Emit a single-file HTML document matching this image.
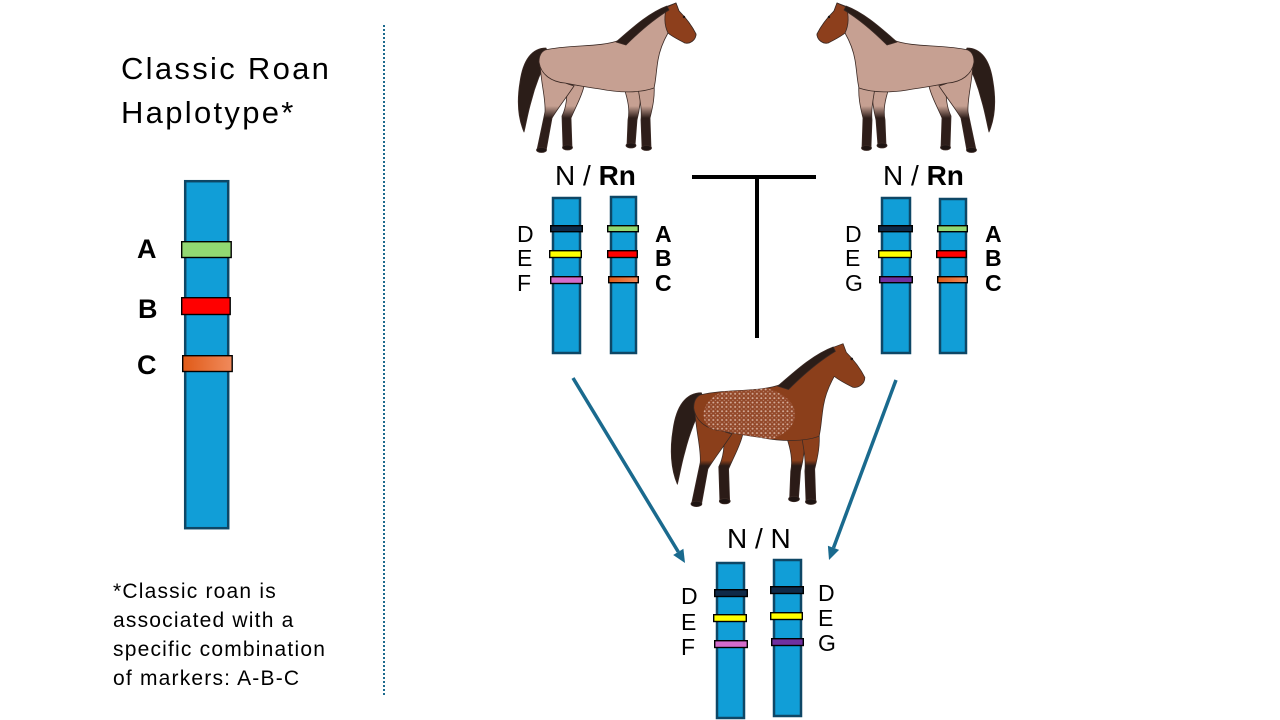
<!DOCTYPE html>
<html>
<head>
<meta charset="utf-8">
<style>
html,body{margin:0;padding:0;background:#fff;}
svg{display:block;}
text{font-family:"Liberation Sans",Arial,sans-serif;fill:#000;}
.b{font-weight:bold;}
</style>
</head>
<body>
<svg width="1280" height="720" viewBox="0 0 1280 720" xmlns="http://www.w3.org/2000/svg">
<defs>
  <linearGradient id="orng" x1="0" y1="0" x2="1" y2="0">
    <stop offset="0" stop-color="#e05a17"/>
    <stop offset="1" stop-color="#f08a5c"/>
  </linearGradient>
  <linearGradient id="legRoan" gradientUnits="userSpaceOnUse" x1="0" y1="106" x2="0" y2="118">
    <stop offset="0" stop-color="#c6a092"/>
    <stop offset="1" stop-color="#2e1e1a"/>
  </linearGradient>
  <linearGradient id="legBay" gradientUnits="userSpaceOnUse" x1="0" y1="110" x2="0" y2="115">
    <stop offset="0" stop-color="#8b3f1b"/>
    <stop offset="1" stop-color="#2b1b17"/>
  </linearGradient>
  <pattern id="speck" width="4" height="4" patternUnits="userSpaceOnUse">
    <rect width="4" height="4" fill="#94492b"/>
    <circle cx="1" cy="1" r="0.9" fill="#e2c1b2"/>
    <circle cx="3" cy="3" r="0.6" fill="#c99a86"/>
  </pattern>
  <clipPath id="bodyClip">
    <path d="M545 50 C570 44,600 48,620 40 C634 30,650 14,668 6 L676 3 L679 11 C686 18,692 26,696 34 C696 40,690 44,685 43 C679 40,673 37,668 33 C664 40,660 48,658 60 C656 72,656 80,654 88 C640 93,620 93,600 89 C585 87,575 85,565 83 C552 82,541 75,539 62 C539 56,541 52,545 50 Z"/>
  </clipPath>
  <g id="horseLegs">
  </g>
</defs>

<!-- Left panel -->
<text x="121" y="79" font-size="31" letter-spacing="2.3">Classic Roan</text>
<text x="121" y="123" font-size="31" letter-spacing="2.3">Haplotype*</text>

<rect x="185.2" y="181.2" width="43" height="347" fill="#119ed7" stroke="#0e4766" stroke-width="2.5"/>
<rect x="181.7" y="241.7" width="49.5" height="15.8" fill="#92d872" stroke="#000" stroke-width="1.4"/>
<rect x="181.7" y="297.7" width="48.5" height="16.8" fill="#ff0000" stroke="#000" stroke-width="1.4"/>
<rect x="182.7" y="355.7" width="49.5" height="15.8" fill="url(#orng)" stroke="#000" stroke-width="1.4"/>
<text x="137" y="258" font-size="27" class="b">A</text>
<text x="138" y="318" font-size="27" class="b">B</text>
<text x="137" y="374" font-size="27" class="b">C</text>

<text font-size="21" letter-spacing="1.2">
  <tspan x="113" y="598">*Classic roan is</tspan>
  <tspan x="113" y="627">associated with a</tspan>
  <tspan x="113" y="656">specific combination</tspan>
  <tspan x="113" y="685">of markers: A-B-C</tspan>
</text>

<line x1="384" y1="25" x2="384" y2="695" stroke="#1b6a8e" stroke-width="2" stroke-dasharray="2 2"/>

<!-- T connector -->
<line x1="692" y1="177" x2="816" y2="177" stroke="#000" stroke-width="4"/>
<line x1="757" y1="177" x2="757" y2="338" stroke="#000" stroke-width="4"/>

<!-- Arrows -->
<line x1="573" y1="378" x2="678.3" y2="551.9" stroke="#1a6a8e" stroke-width="3.5"/>
<polygon points="685,563 673.2,555 683.4,548.8" fill="#1a6a8e"/>
<line x1="896" y1="380" x2="833.5" y2="547.8" stroke="#1a6a8e" stroke-width="3.5"/>
<polygon points="829,560 827.9,545.7 839.1,549.9" fill="#1a6a8e"/>

<!-- Left parent -->
<text x="555" y="185" font-size="28">N / <tspan class="b">Rn</tspan></text>
<rect x="553" y="198" width="27" height="155" fill="#119ed7" stroke="#0e4766" stroke-width="2.5"/>
<rect x="611" y="197" width="25" height="156" fill="#119ed7" stroke="#0e4766" stroke-width="2.5"/>
<rect x="550.7" y="225.7" width="31.6" height="6" fill="#0f2a48" stroke="#000" stroke-width="1.4"/>
<rect x="549.7" y="250.7" width="31.6" height="6.8" fill="#ffff00" stroke="#000" stroke-width="1.4"/>
<rect x="550.7" y="276.7" width="31.6" height="6.8" fill="#d46ccb" stroke="#000" stroke-width="1.4"/>
<rect x="607.7" y="225.7" width="30.6" height="6" fill="#92d872" stroke="#000" stroke-width="1.4"/>
<rect x="607.7" y="250.7" width="29.6" height="6.8" fill="#ff0000" stroke="#000" stroke-width="1.4"/>
<rect x="608.7" y="276.7" width="29.6" height="6" fill="url(#orng)" stroke="#000" stroke-width="1.4"/>
<text font-size="23"><tspan x="517" y="242">D</tspan><tspan x="517" y="266">E</tspan><tspan x="517" y="291">F</tspan></text>
<text font-size="23" class="b"><tspan x="655" y="242">A</tspan><tspan x="655" y="266">B</tspan><tspan x="655" y="291">C</tspan></text>

<!-- Right parent -->
<text x="883" y="185" font-size="28">N / <tspan class="b">Rn</tspan></text>
<rect x="882" y="198" width="28" height="155" fill="#119ed7" stroke="#0e4766" stroke-width="2.5"/>
<rect x="940" y="199" width="26" height="154" fill="#119ed7" stroke="#0e4766" stroke-width="2.5"/>
<rect x="878.7" y="225.7" width="33.6" height="6" fill="#0f2a48" stroke="#000" stroke-width="1.4"/>
<rect x="878.7" y="250.7" width="32.6" height="6.8" fill="#ffff00" stroke="#000" stroke-width="1.4"/>
<rect x="879.7" y="276.7" width="32.6" height="6" fill="#7030a0" stroke="#000" stroke-width="1.4"/>
<rect x="937.7" y="225.7" width="29.6" height="6" fill="#92d872" stroke="#000" stroke-width="1.4"/>
<rect x="936.7" y="250.7" width="29.6" height="6.8" fill="#ff0000" stroke="#000" stroke-width="1.4"/>
<rect x="937.7" y="276.7" width="29.6" height="6" fill="url(#orng)" stroke="#000" stroke-width="1.4"/>
<text font-size="23"><tspan x="845" y="242">D</tspan><tspan x="845" y="266">E</tspan><tspan x="845" y="291">G</tspan></text>
<text font-size="23" class="b"><tspan x="985" y="242">A</tspan><tspan x="985" y="266">B</tspan><tspan x="985" y="291">C</tspan></text>

<!-- Child -->
<text x="727" y="548" font-size="28">N / N</text>
<rect x="717" y="563" width="27" height="155" fill="#119ed7" stroke="#0e4766" stroke-width="2.5"/>
<rect x="774" y="560" width="27" height="156" fill="#119ed7" stroke="#0e4766" stroke-width="2.5"/>
<rect x="714.7" y="589.7" width="32.6" height="6.8" fill="#0f2a48" stroke="#000" stroke-width="1.4"/>
<rect x="713.7" y="614.7" width="32.6" height="6.8" fill="#ffff00" stroke="#000" stroke-width="1.4"/>
<rect x="714.7" y="640.7" width="32.6" height="6.8" fill="#d46ccb" stroke="#000" stroke-width="1.4"/>
<rect x="770.7" y="586.7" width="32.6" height="6.8" fill="#0f2a48" stroke="#000" stroke-width="1.4"/>
<rect x="770.7" y="612.7" width="31.6" height="6.8" fill="#ffff00" stroke="#000" stroke-width="1.4"/>
<rect x="771.7" y="638.7" width="31.6" height="6.8" fill="#7030a0" stroke="#000" stroke-width="1.4"/>
<text font-size="23"><tspan x="681" y="604">D</tspan><tspan x="681" y="630">E</tspan><tspan x="681" y="655">F</tspan></text>
<text font-size="23"><tspan x="818" y="601">D</tspan><tspan x="818" y="626">E</tspan><tspan x="818" y="651">G</tspan></text>

<!-- Horse: top-left (roan) -->
<g stroke="#3b2a25" stroke-width="0.8" stroke-linejoin="round">
  <path d="M546 48 C532 48,523 60,520 82 C517 100,518 118,524 132 C526 124,528 112,531 102 C534 90,540 72,549 56 Z" fill="#2b1d18"/>
  <path d="M566 84 C568 96,566 108,562 116 L563 147 L572 148 L571 118 C576 106,582 96,584 86 Z" fill="url(#legRoan)"/>
  <path d="M624 88 C628 100,630 110,628 120 L627 145 L635 146 L637 120 C640 108,641 98,641 88 Z" fill="url(#legRoan)"/>
  <path d="M540 60 C540 80,546 98,545 112 L537 150 L546 151 L552 118 C558 108,566 98,574 86 C560 82,548 74,540 60 Z" fill="url(#legRoan)"/>
  <path d="M638 88 C640 100,642 110,641 120 L642 147 L651 148 L650 118 C653 106,655 96,654 84 Z" fill="url(#legRoan)"/>
  <path d="M545 50 C570 44,600 48,620 40 C634 30,650 14,668 6 L676 3 L679 11 C686 18,692 26,696 34 C696 40,690 44,685 43 C679 40,673 37,668 33 C664 40,660 48,658 60 C656 72,656 80,654 88 C640 93,620 93,600 89 C585 87,575 85,565 83 C552 82,541 75,539 62 C539 56,541 52,545 50 Z" fill="#c6a092"/>
  <path d="M667 7 L676 3 L679 11 C686 18,692 26,696 34 C696 40,690 44,685 43 C679 40,673 37,668 33 C664 25,664 15,667 7 Z" fill="#8d3f1c"/>
  <path d="M616 42 C630 30,648 13,667 6 L669 10 C654 19,640 31,626 45 Z" fill="#2b1d18"/>
  <ellipse cx="541.5" cy="150" rx="5" ry="2.5" fill="#1e1412"/>
  <ellipse cx="567.5" cy="147.5" rx="5" ry="2.5" fill="#1e1412"/>
  <ellipse cx="631" cy="145.5" rx="5" ry="2.5" fill="#1e1412"/>
  <ellipse cx="646.5" cy="148" rx="5" ry="2.5" fill="#1e1412"/>
  <circle cx="684" cy="17" r="1.2" fill="#1e1412" stroke="none"/>
</g>

<!-- Horse: top-right (mirror) -->
<g transform="translate(1513,0) scale(-1,1)" stroke="#3b2a25" stroke-width="0.8" stroke-linejoin="round">
  <path d="M546 48 C532 48,523 60,520 82 C517 100,518 118,524 132 C526 124,528 112,531 102 C534 90,540 72,549 56 Z" fill="#2b1d18"/>
  <path d="M566 84 C568 96,566 108,562 116 L563 147 L572 148 L571 118 C576 106,582 96,584 86 Z" fill="url(#legRoan)"/>
  <path d="M624 88 C628 100,630 110,628 120 L627 145 L635 146 L637 120 C640 108,641 98,641 88 Z" fill="url(#legRoan)"/>
  <path d="M540 60 C540 80,546 98,545 112 L537 150 L546 151 L552 118 C558 108,566 98,574 86 C560 82,548 74,540 60 Z" fill="url(#legRoan)"/>
  <path d="M638 88 C640 100,642 110,641 120 L642 147 L651 148 L650 118 C653 106,655 96,654 84 Z" fill="url(#legRoan)"/>
  <path d="M545 50 C570 44,600 48,620 40 C634 30,650 14,668 6 L676 3 L679 11 C686 18,692 26,696 34 C696 40,690 44,685 43 C679 40,673 37,668 33 C664 40,660 48,658 60 C656 72,656 80,654 88 C640 93,620 93,600 89 C585 87,575 85,565 83 C552 82,541 75,539 62 C539 56,541 52,545 50 Z" fill="#c6a092"/>
  <path d="M667 7 L676 3 L679 11 C686 18,692 26,696 34 C696 40,690 44,685 43 C679 40,673 37,668 33 C664 25,664 15,667 7 Z" fill="#8d3f1c"/>
  <path d="M616 42 C630 30,648 13,667 6 L669 10 C654 19,640 31,626 45 Z" fill="#2b1d18"/>
  <ellipse cx="541.5" cy="150" rx="5" ry="2.5" fill="#1e1412"/>
  <ellipse cx="567.5" cy="147.5" rx="5" ry="2.5" fill="#1e1412"/>
  <ellipse cx="631" cy="145.5" rx="5" ry="2.5" fill="#1e1412"/>
  <ellipse cx="646.5" cy="148" rx="5" ry="2.5" fill="#1e1412"/>
  <circle cx="684" cy="17" r="1.2" fill="#1e1412" stroke="none"/>
</g>

<!-- Horse: child (bay roan) -->
<g transform="translate(106.2,340.4) scale(1.09)" stroke="#3b2a25" stroke-width="0.7" stroke-linejoin="round">
  <path d="M546 48 C532 48,523 60,520 82 C517 100,518 118,524 132 C526 124,528 112,531 102 C534 90,540 72,549 56 Z" fill="#2b1d18"/>
  <path d="M566 84 C568 96,566 108,562 116 L563 147 L572 148 L571 118 C576 106,582 96,584 86 Z" fill="url(#legBay)"/>
  <path d="M624 88 C628 100,630 110,628 120 L627 145 L635 146 L637 120 C640 108,641 98,641 88 Z" fill="url(#legBay)"/>
  <path d="M540 60 C540 80,546 98,545 112 L537 150 L546 151 L552 118 C558 108,566 98,574 86 C560 82,548 74,540 60 Z" fill="url(#legBay)"/>
  <path d="M638 88 C640 100,642 110,641 120 L642 147 L651 148 L650 118 C653 106,655 96,654 84 Z" fill="url(#legBay)"/>
  <path d="M545 50 C570 44,600 48,620 40 C634 30,650 14,668 6 L676 3 L679 11 C686 18,692 26,696 34 C696 40,690 44,685 43 C679 40,673 37,668 33 C664 40,660 48,658 60 C656 72,656 80,654 88 C640 93,620 93,600 89 C585 87,575 85,565 83 C552 82,541 75,539 62 C539 56,541 52,545 50 Z" fill="#8b3f1b"/>
  <g clip-path="url(#bodyClip)">
    <ellipse cx="590" cy="68" rx="42" ry="26" fill="url(#speck)" stroke="none" opacity="0.85"/>
  </g>
  <path d="M616 42 C630 30,648 13,667 6 L669 10 C654 19,640 31,626 45 Z" fill="#2b1d18"/>
  <ellipse cx="541.5" cy="150" rx="5" ry="2.5" fill="#1e1412"/>
  <ellipse cx="567.5" cy="147.5" rx="5" ry="2.5" fill="#1e1412"/>
  <ellipse cx="631" cy="145.5" rx="5" ry="2.5" fill="#1e1412"/>
  <ellipse cx="646.5" cy="148" rx="5" ry="2.5" fill="#1e1412"/>
  <circle cx="684" cy="17" r="1.2" fill="#1e1412" stroke="none"/>
</g>
</svg>
</body>
</html>
